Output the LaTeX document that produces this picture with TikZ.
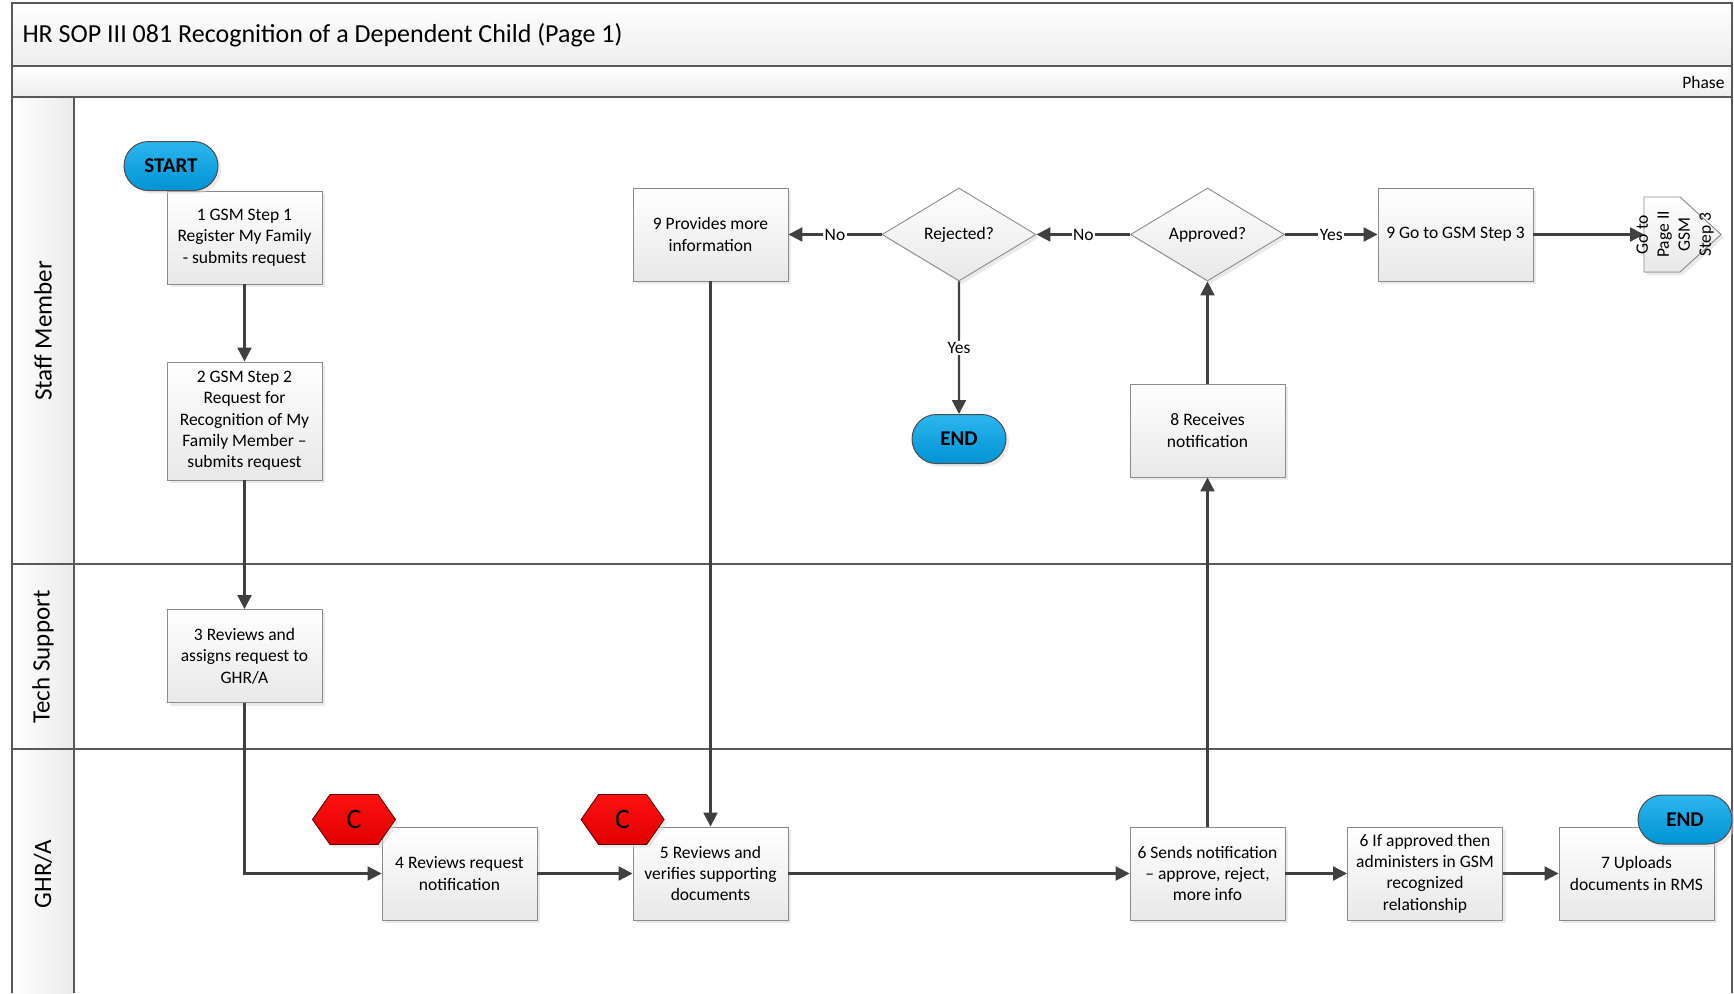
\documentclass[tikz,border=0pt]{standalone}
\usepackage{fontspec}
\setmainfont{Carlito}
\usetikzlibrary{arrows.meta,shapes.geometric,shapes.misc,shapes.symbols,shadows}
\definecolor{lineC}{HTML}{404040}
\definecolor{frameC}{HTML}{595959}
\definecolor{boxB}{HTML}{8C8C8C}
\definecolor{termTop}{HTML}{2DB6EE}
\definecolor{termBot}{HTML}{0093D3}
\definecolor{redTop}{HTML}{FF1010}
\definecolor{redBot}{HTML}{E00000}
\begin{document}
\begin{tikzpicture}[x=1pt,y=-1pt,
  proc/.style={rectangle, draw=boxB, line width=0.9pt, top color=white, bottom color=black!9,
    minimum width=155pt, minimum height=93pt, align=center, inner sep=2pt,
    font=\fontsize{17.5}{21.3}\selectfont,
    drop shadow={shadow xshift=3pt,shadow yshift=-3pt,fill=black!16}},
  dec/.style={diamond, aspect=1.65, draw=boxB, line width=0.9pt, top color=white, bottom color=black!9,
    minimum width=154pt, minimum height=93pt, inner sep=0pt, align=center,
    font=\fontsize{17.5}{21.3}\selectfont,
    drop shadow={shadow xshift=3pt,shadow yshift=-3pt,fill=black!16}},
  term/.style={rounded rectangle, draw=black!70, line width=1pt, top color=termTop, bottom color=termBot,
    minimum width=94pt, minimum height=49pt, inner sep=0pt, font=\fontsize{21}{24}\selectfont\bfseries,
    drop shadow={shadow xshift=3pt,shadow yshift=-3pt,fill=black!16}},
  hexc/.style={signal, signal to=west and east, signal pointer angle=110, draw=black!60!red, line width=0.9pt,
    top color=redTop, bottom color=redBot, minimum width=83pt, minimum height=50pt, inner sep=0pt,
    font=\fontsize{28}{30}\selectfont,
    drop shadow={shadow xshift=3pt,shadow yshift=-3pt,fill=black!16}},
  conn/.style={draw=lineC, line width=2.2pt, -{Triangle[length=14pt,width=14pt]}},
  lbl/.style={fill=white, inner sep=1.5pt, font=\fontsize{17.5}{20}\selectfont},
  lane/.style={rotate=90, font=\fontsize{25}{28}\selectfont},
  frame/.style={draw=frameC, line width=1.5pt}
]
\useasboundingbox (0,0) rectangle (1734,993);
% frame
\shade[top color=white, bottom color=black!7] (12,3) rectangle (1732,66);
\shade[top color=white, bottom color=black!7] (12,66) rectangle (1732,97);
\shade[left color=white, right color=black!8] (12,97) rectangle (74,993);
\draw[frame] (12,993) -- (12,3) -- (1732,3) -- (1732,993);
\draw[frame] (12,66) -- (1732,66);
\draw[frame] (12,97) -- (1732,97);
\draw[frame] (74,97) -- (74,993);
\draw[frame] (12,564) -- (1732,564);
\draw[frame] (12,749) -- (1732,749);
\node[anchor=west, font=\fontsize{26}{30}\selectfont] (title) at (19,35) {HR SOP III 081 Recognition of a Dependent Child (Page 1)};
\node[anchor=east, font=\fontsize{17.5}{20}\selectfont] (phase) at (1728,82) {Phase};
\node[lane] (lsm) at (43,331) {Staff Member};
\node[lane] (lts) at (43,657) {Tech Support};
\node[lane] (lgh) at (43,874) {GHR/A};
% process boxes
\node[proc] (b1) at (244.5,237.5) {1 GSM Step 1\\Register My Family\\- submits request};
\node[proc, minimum height=118pt] (b2) at (244.5,421) {2 GSM Step 2\\Request for\\Recognition of My\\Family Member --\\submits request};
\node[proc] (b3) at (244.5,656) {3 Reviews and\\assigns request to\\GHR/A};
\node[proc] (b4) at (459.5,873.5) {4 Reviews request\\notification};
\node[proc] (b5) at (710.5,873.5) {5 Reviews and\\verifies supporting\\documents};
\node[proc] (b6) at (1207.5,873.5) {6 Sends notification\\-- approve, reject,\\more info};
\node[proc] (b6a) at (1425,873.5) {6 If approved then\\administers in GSM\\recognized\\relationship};
\node[proc] (b7) at (1636.5,873.5) {7 Uploads\\documents in RMS};
\node[proc] (b8) at (1207.5,430.5) {8 Receives\\notification};
\node[proc] (b9p) at (710.5,234.5) {9 Provides more\\information};
\node[proc] (b9g) at (1455.5,234.5) {9 Go to GSM Step 3};
\node[dec] (rej) at (959,234.5) {Rejected?};
\node[dec] (appr) at (1207.5,234.5) {Approved?};
% off-page connector
\filldraw[draw=boxB, line width=0.9pt, top color=white, bottom color=black!9,
  drop shadow={shadow xshift=3pt,shadow yshift=-3pt,fill=black!16}]
  (1644,197) -- (1680,197) -- (1721,234.5) -- (1680,272) -- (1644,272) -- cycle;
\coordinate (off) at (1644,234.5);
% connectors
\draw[conn] (b1) -- (b2);
\draw[conn] (b2) -- (b3);
\draw[conn] (b3.south) |- (b4.west);
\draw[conn] (b4) -- (b5);
\draw[conn] (b5) -- (b6);
\draw[conn] (b6) -- (b8);
\draw[conn] (b6) -- (b6a);
\draw[conn] (b6a) -- (b7);
\draw[conn] (b8) -- (appr);
\draw[conn] (b9p) -- (b5);
\draw[conn] (b9g) -- (off);
\draw[conn] (appr) -- node[lbl] {Yes} (b9g);
\draw[conn] (appr) -- node[lbl] {No} (rej);
\draw[conn] (rej) -- node[lbl] {No} (b9p);
\node[term] (end1) at (959,439) {END};
\draw[conn] (rej) -- node[lbl] {Yes} (end1);
\node[rotate=90, align=center, font=\fontsize{17.5}{21}\selectfont] (offt) at (1675,234.5) {Go to\\Page II\\GSM\\Step 3};
% terminals and markers
\node[term] (start) at (171,166) {START};
\node[term] (end2) at (1685,819.5) {END};
\node[hexc] (c1) at (354,819.5) {C};
\node[hexc] (c2) at (622.6,819.5) {C};
\end{tikzpicture}
\end{document}
